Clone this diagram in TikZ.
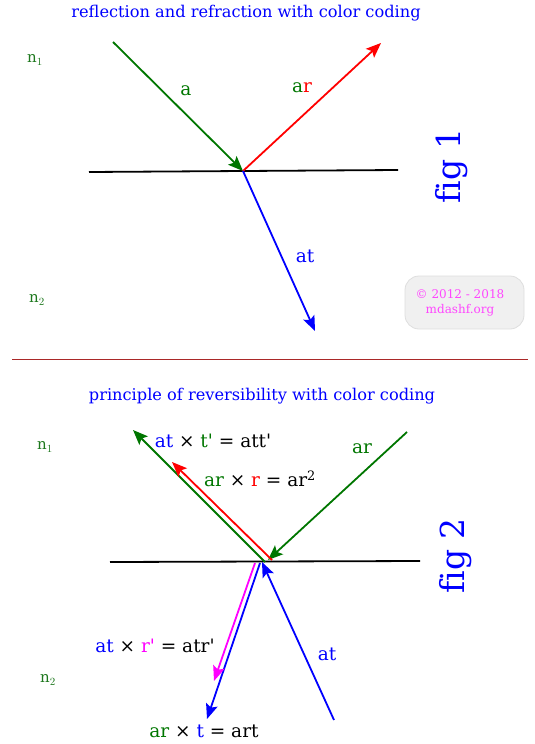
\documentclass[tikz,border=0pt]{standalone}
\usepackage{fontspec}
\setmainfont{DejaVu Serif}
\usetikzlibrary{arrows.meta}
\definecolor{dgreen}{RGB}{0,118,0}
\definecolor{ngreen}{RGB}{30,120,30}
\definecolor{sepred}{RGB}{170,40,40}
\definecolor{cmag}{RGB}{255,70,255}
\definecolor{mag}{RGB}{255,0,255}
\definecolor{boxfill}{RGB}{240,240,240}
\definecolor{boxline}{RGB}{222,222,222}
\newcommand{\fs}[1]{\fontsize{#1}{#1}\selectfont}
\newcommand{\pr}{\textquotesingle}
\begin{document}
\begin{tikzpicture}[x=1pt,y=-1pt,
  ray/.style={line width=1.8pt,-{Stealth[length=15pt,width=12pt,inset=3pt]}},
  surf/.style={line width=1.8pt,black},
  lab/.style={inner sep=0pt,font=\fs{18.5}},
  med/.style={inner sep=0pt,font=\fs{15},text=ngreen},
  ttl/.style={inner sep=0pt,font=\fs{16.2},text=blue},
  figl/.style={inner sep=0pt,font=\fs{33},text=blue,rotate=90}]
\useasboundingbox (0,0) rectangle (535,744);
% ---------- fig 1 ----------
\node[ttl] (t1) at (246,13) {reflection and refraction with color coding};
\node[med] (n1a) at (35,60) {n$_1$};
\node[med] (n2a) at (37,300) {n$_2$};
\coordinate (s1l) at (89,172);
\coordinate (s1r) at (398,170);
\draw[surf] (s1l) -- (s1r);
\coordinate (o1) at (243,171);
\coordinate (a1) at (113,42);
\coordinate (r1) at (381,43);
\coordinate (tt1) at (315,331);
\draw[ray,dgreen] (a1) -- (o1);
\draw[ray,red] (o1) -- (r1);
\draw[ray,blue] (o1) -- (tt1);
\node[lab,text=dgreen] (la) at (186,91) {a};
\node[lab] (lar) at (302,88) {\textcolor{dgreen}{a}\textcolor{red}{r}};
\node[lab,text=blue] (lat) at (305,256) {at};
\node[figl] (f1) at (452,166) {f\kern0pt ig 1};
\node[draw=boxline,fill=boxfill,rounded corners=14pt,line width=0.8pt,
      minimum width=119pt,minimum height=53pt,inner sep=0pt] (cb) at (464.5,302.5) {};
\node[inner sep=0pt,font=\fs{12},text=cmag,align=center] (ct) at (460,303)
  {© 2012 - 2018\\[3pt]mdashf.org};
% separator
\coordinate (sepl) at (12,359);
\coordinate (sepr) at (528,359);
\draw[sepred,line width=0.6pt] (sepl) -- (sepr);
% ---------- fig 2 ----------
\node[ttl] (t2) at (262,396) {principle of reversibility with color coding};
\node[med] (n1b) at (45,447) {n$_1$};
\node[med] (n2b) at (48,680) {n$_2$};
\coordinate (s2l) at (110,562);
\coordinate (s2r) at (420,561);
\draw[surf] (s2l) -- (s2r);
\coordinate (g2s) at (407,432);
\coordinate (g2e) at (268,560);
\draw[ray,dgreen] (g2s) -- (g2e);
\coordinate (go2s) at (265,562);
\coordinate (go2e) at (133,430);
\draw[ray,dgreen] (go2s) -- (go2e);
\coordinate (rd2s) at (272,560);
\coordinate (rd2e) at (172,462);
\draw[ray,red] (rd2s) -- (rd2e);
\coordinate (b2s) at (334,720);
\coordinate (b2e) at (262,562);
\draw[ray,blue] (b2s) -- (b2e);
\coordinate (bo2s) at (260,563);
\coordinate (bo2e) at (207,719);
\draw[ray,blue] (bo2s) -- (bo2e);
\coordinate (m2s) at (255,563);
\coordinate (m2e) at (214,681);
\draw[ray,mag] (m2s) -- (m2e);
\node[lab] (l1) at (213,441) {\textcolor{blue}{at} × \textcolor{dgreen}{t\pr} = att\pr};
\node[lab] (l2) at (260,479) {\textcolor{dgreen}{ar} × \textcolor{red}{r} = ar\textsuperscript{2}};
\node[lab,text=dgreen] (l3) at (362,449) {ar};
\node[lab] (l4) at (155,646) {\textcolor{blue}{at} × \textcolor{mag}{r\pr} = atr\pr};
\node[lab,text=blue] (l5) at (327,654) {at};
\node[lab] (l6) at (204,731) {\textcolor{dgreen}{ar} × \textcolor{blue}{t} = art};
\node[figl] (f2) at (456,556) {f\kern0pt ig 2};
\end{tikzpicture}
\end{document}
